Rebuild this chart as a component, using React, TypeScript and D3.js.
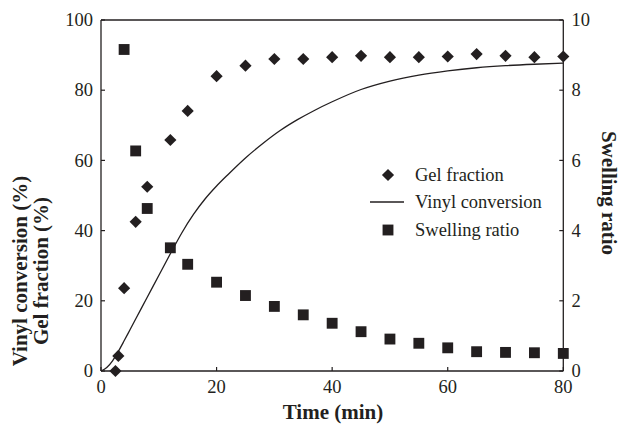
import React from "react";
import * as d3 from "d3";

// Sampling times (min) for the measured series
const times = [2.5, 3, 4, 6, 8, 12, 15, 20, 25, 30, 35, 40, 45, 50, 55, 60, 65, 70, 75, 80];
// Gel fraction (%)
const gelFraction = [0, 4.3, 23.6, 42.5, 52.5, 65.8, 74.1, 84, 87, 88.9, 88.9, 89.4, 89.8, 89.4, 89.4, 89.6, 90.3, 89.8, 89.4, 89.6];

// Swelling ratio sampling times and values
const swellTimes = [4, 6, 8, 12, 15, 20, 25, 30, 35, 40, 45, 50, 55, 60, 65, 70, 75, 80];
const swellingRatio = [9.16, 6.27, 4.63, 3.51, 3.04, 2.53, 2.15, 1.84, 1.6, 1.36, 1.12, 0.91, 0.79, 0.66, 0.55, 0.53, 0.52, 0.5];

// Vinyl conversion curve (%)
const convTimes = [0, 1, 2, 3, 4, 5, 6, 8, 10, 12, 14, 16, 18, 20, 22, 25, 28, 31, 34, 37, 40, 45, 50, 55, 60, 65, 70, 75, 80];
const vinylConversion = [0, 1.0, 2.9, 5.6, 8.6, 11.7, 14.8, 21.0, 27.2, 33.4, 39.4, 44.6, 49.0, 52.7, 56.0, 60.7, 64.8, 68.5, 71.6, 74.3, 76.7, 80.2, 82.6, 84.3, 85.5, 86.4, 87, 87.4, 87.7];

const xTicks = [0, 20, 40, 60, 80];
const yLeftTicks = [0, 20, 40, 60, 80, 100];
const yRightTicks = [0, 2, 4, 6, 8, 10];

const W = 620;
const H = 425;
const L = 101;
const R = 563.3;
const T = 20;
const B = 371;
const ink = "#231f20";
const font = "'Liberation Serif', 'Times New Roman', serif";

export default function App() {
  const x = d3.scaleLinear().domain([0, 80]).range([L, R]);
  const yL = d3.scaleLinear().domain([0, 100]).range([B, T]);
  const yR = d3.scaleLinear().domain([0, 10]).range([B, T]);

  const line = d3
    .line<number>()
    .x((_, i) => x(convTimes[i]))
    .y((d) => yL(d))
    .curve(d3.curveMonotoneX);

  const diamond = d3.symbol().type(d3.symbolSquare).size(74)()!;
  const square = d3.symbol().type(d3.symbolSquare).size(118)()!;
  const tickLen = 4;

  return (
    <svg
      width={W}
      height={H}
      style={{ position: "absolute", left: 0, top: 0, background: "#fff" }}
      fontFamily={font}
    >
      {/* frame */}
      <line x1={L} y1={T} x2={R} y2={T} stroke={ink} strokeWidth={1.3} />
      <line x1={L} y1={T} x2={L} y2={B} stroke={ink} strokeWidth={1.3} />
      <line x1={R} y1={T} x2={R} y2={B} stroke={ink} strokeWidth={1.3} />
      <line x1={L} y1={B} x2={R} y2={B} stroke={ink} strokeWidth={1.3} />

      {/* x axis */}
      {xTicks.map((t) => (
        <g key={"x" + t}>
          <line x1={x(t)} x2={x(t)} y1={B} y2={B - tickLen} stroke={ink} strokeWidth={1.2} />
          <text x={x(t)} y={393} textAnchor="middle" fontSize={18.5} fill={ink}>
            {t}
          </text>
        </g>
      ))}

      {/* left axis */}
      {yLeftTicks.map((t) => (
        <g key={"yl" + t}>
          <line x1={L} x2={L + tickLen} y1={yL(t)} y2={yL(t)} stroke={ink} strokeWidth={1.2} />
          <text x={93} y={yL(t)} dy="0.34em" textAnchor="end" fontSize={18.5} fill={ink}>
            {t}
          </text>
        </g>
      ))}

      {/* right axis */}
      {yRightTicks.map((t) => (
        <g key={"yr" + t}>
          <line x1={R} x2={R - tickLen} y1={yR(t)} y2={yR(t)} stroke={ink} strokeWidth={1.2} />
          <text x={571.5} y={yR(t)} dy="0.34em" textAnchor="start" fontSize={18.5} fill={ink}>
            {t}
          </text>
        </g>
      ))}

      {/* axis titles */}
      <text x={333} y={419} textAnchor="middle" fontSize={21} fontWeight="bold" fill={ink}>
        Time (min)
      </text>
      <g transform="translate(20,271) rotate(-90)">
        <text x={0} y={7} textAnchor="middle" fontSize={21} fontWeight="bold" fill={ink}>
          Vinyl conversion (%)
        </text>
        <text x={0} y={28} textAnchor="middle" fontSize={21} fontWeight="bold" fill={ink}>
          Gel fraction (%)
        </text>
      </g>
      <g transform="translate(609,193) rotate(90)">
        <text x={0} y={7} textAnchor="middle" fontSize={21} fontWeight="bold" fill={ink}>
          Swelling ratio
        </text>
      </g>

      {/* vinyl conversion curve */}
      <path d={line(vinylConversion) ?? ""} fill="none" stroke={ink} strokeWidth={1.3} />

      {/* gel fraction */}
      {gelFraction.map((v, i) => (
        <path
          key={"g" + i}
          d={diamond}
          transform={`translate(${x(times[i])},${yL(v)}) rotate(45)`}
          fill={ink}
        />
      ))}

      {/* swelling ratio */}
      {swellingRatio.map((v, i) => (
        <path key={"s" + i} d={square} transform={`translate(${x(swellTimes[i])},${yR(v)})`} fill={ink} />
      ))}

      {/* legend */}
      <g fontSize={18.5} fill={ink}>
        <path d={diamond} transform="translate(388,175) rotate(45)" fill={ink} />
        <text x={415} y={175} dy="0.34em">Gel fraction</text>
        <line x1={370} x2={404} y1={202} y2={202} stroke={ink} strokeWidth={1.3} />
        <text x={415} y={202} dy="0.34em">Vinyl conversion</text>
        <path d={square} transform="translate(388,230)" fill={ink} />
        <text x={415} y={230} dy="0.34em">Swelling ratio</text>
      </g>
    </svg>
  );
}
